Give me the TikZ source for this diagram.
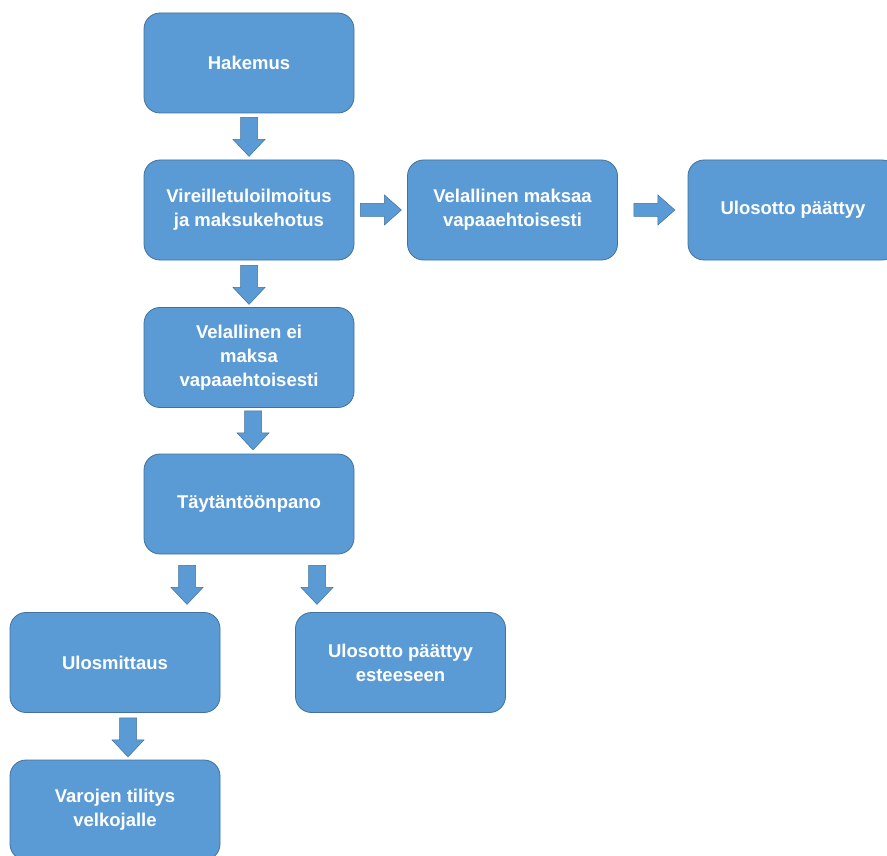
\documentclass[tikz,border=0pt]{standalone}
\usepackage{fontspec}
\setmainfont{Liberation Sans}
\usetikzlibrary{calc}

\definecolor{boxfill}{HTML}{5B9BD5}
\definecolor{boxline}{HTML}{41719C}

\begin{document}
\begin{tikzpicture}[x=1pt,y=-1pt,
    stage/.style={draw=boxline,line width=0.8pt,fill=boxfill,rounded corners=16pt,
        minimum width=210pt,minimum height=100pt,align=center,text=white,
        font=\bfseries\fontsize{18.5}{24}\selectfont},
    darrow/.pic={\filldraw[fill=boxfill,draw=boxline,line width=0.5pt]
        (-8.5,0) -- (8.5,0) -- (8.5,22) -- (16,22) -- (0,39) -- (-16,22) -- (-8.5,22) -- cycle;},
    rarrow/.pic={\filldraw[fill=boxfill,draw=boxline,line width=0.5pt]
        (0,-6.5) -- (24,-6.5) -- (24,-15) -- (41,0) -- (24,15) -- (24,6.5) -- (0,6.5) -- cycle;}]
    \useasboundingbox (0,0) rectangle (887,856);
    \node[stage] (hak) at (249,63) {Hakemus};
    \node[stage] (vir) at (249,210) {Vireilletuloilmoitus\\ja maksukehotus};
    \node[stage] (maksaa) at (512.5,210) {Velallinen maksaa\\vapaaehtoisesti};
    \node[stage] (paattyy) at (793,210) {Ulosotto päättyy};
    \node[stage] (eimaksa) at (249,357.5) {Velallinen ei\\maksa\\vapaaehtoisesti};
    \node[stage] (tayt) at (249,504) {Täytäntöönpano};
    \node[stage] (ulosm) at (115,662.5) {Ulosmittaus};
    \node[stage] (este) at (400.5,662.5) {Ulosotto päättyy\\esteeseen};
    \node[stage] (varat) at (115,810) {Varojen tilitys\\velkojalle};
    % block arrows
    \pic at ($(hak.south)+(0,4)$) {darrow};
    \pic at ($(vir.south)+(0,5)$) {darrow};
    \pic at ($(eimaksa.south)+(4,3)$) {darrow};
    \pic at ($(tayt.south)+(-62,11)$) {darrow};
    \pic at ($(tayt.south)+(68,11)$) {darrow};
    \pic at ($(ulosm.south)+(13,5)$) {darrow};
    \pic at ($(vir.east)+(6,0)$) {rarrow};
    \pic at ($(maksaa.east)+(16,0)$) {rarrow};
\end{tikzpicture}
\end{document}
